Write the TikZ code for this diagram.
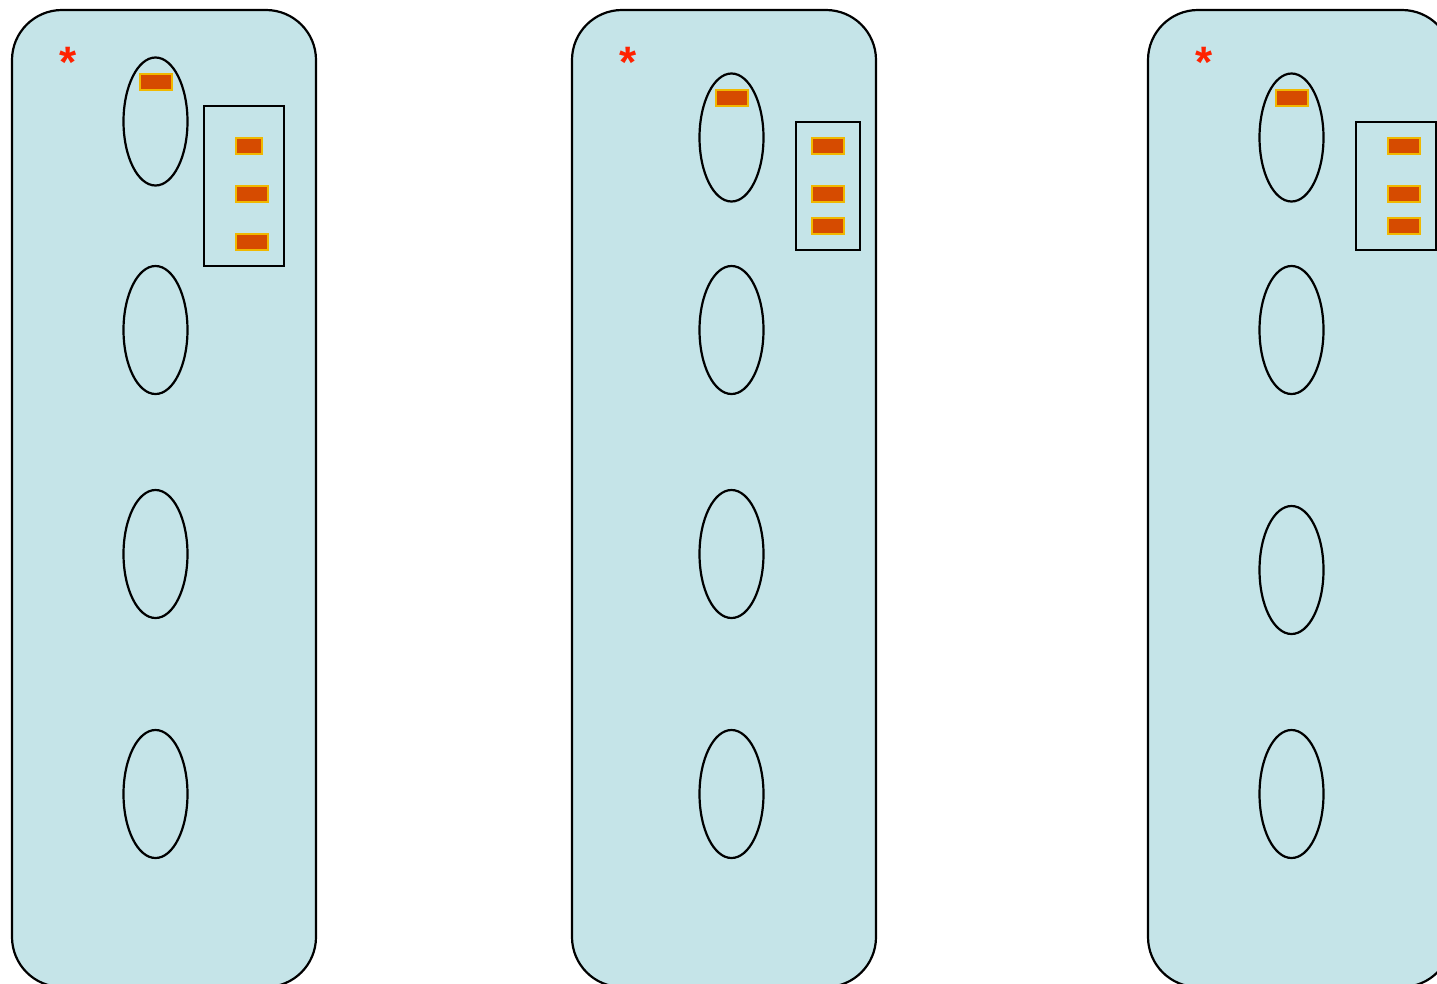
\documentclass[tikz,border=0pt]{standalone}
\usepackage{fontspec}
\setmainfont{Liberation Sans}
\usetikzlibrary{shapes.geometric}
\definecolor{panelblue}{RGB}{197,228,232}
\definecolor{chip}{RGB}{214,75,0}
\definecolor{chipedge}{RGB}{240,184,0}
\definecolor{starred}{RGB}{255,34,0}
\tikzset{
  panelbox/.style={draw=black, line width=2.2pt, fill=panelblue, rounded corners=50pt, minimum width=304pt, minimum height=977pt, inner sep=0pt},
  oval/.style={draw=black, line width=2.2pt, ellipse, minimum width=64pt, minimum height=128pt, inner sep=0pt},
  tray/.style={draw=black, line width=2.2pt, rectangle, inner sep=0pt},
  chipbox/.style={draw=chipedge, line width=2.5pt, fill=chip, rectangle, inner sep=0pt, minimum height=16pt},
  star/.style={text=starred, font=\bfseries\fontsize{44}{44}\selectfont, inner sep=0pt, anchor=north}
}
\begin{document}
\begin{tikzpicture}[x=1pt, y=-1pt]
\useasboundingbox (0,0) rectangle (1437,983);
\clip (0,0) rectangle (1437,983);
% ---------- panel 1 ----------
\node[panelbox] (p1) at (164,498.5) {};
\node[star] (s1) at (68,47) {*};
\node[oval] (a1) at (155.5,121.5) {};
\node[oval] (b1) at (155.5,330) {};
\node[oval] (c1) at (155.5,554) {};
\node[oval] (d1) at (155.5,794) {};
\node[chipbox, minimum width=32pt] (k1) at (156,82) {};
\node[tray, minimum width=80pt, minimum height=160pt] (t1) at (244,186) {};
\node[chipbox, minimum width=26pt] (q1a) at (249,146) {};
\node[chipbox, minimum width=32pt] (q1b) at (252,194) {};
\node[chipbox, minimum width=32pt] (q1c) at (252,242) {};
% ---------- panel 2 ----------
\node[panelbox] (p2) at (724,498.5) {};
\node[star] (s2) at (628,47) {*};
\node[oval] (a2) at (731.5,137.5) {};
\node[oval] (b2) at (731.5,330) {};
\node[oval] (c2) at (731.5,554) {};
\node[oval] (d2) at (731.5,794) {};
\node[chipbox, minimum width=32pt] (k2) at (732,98) {};
\node[tray, minimum width=64pt, minimum height=128pt] (t2) at (828,186) {};
\node[chipbox, minimum width=32pt] (q2a) at (828,146) {};
\node[chipbox, minimum width=32pt] (q2b) at (828,194) {};
\node[chipbox, minimum width=32pt] (q2c) at (828,226) {};
% ---------- panel 3 ----------
\node[panelbox] (p3) at (1300,498.5) {};
\node[star] (s3) at (1204,47) {*};
\node[oval] (a3) at (1291.5,137.5) {};
\node[oval] (b3) at (1291.5,330) {};
\node[oval] (c3) at (1291.5,570) {};
\node[oval] (d3) at (1291.5,794) {};
\node[chipbox, minimum width=32pt] (k3) at (1292,98) {};
\node[tray, minimum width=80pt, minimum height=128pt] (t3) at (1396,186) {};
\node[chipbox, minimum width=32pt] (q3a) at (1404,146) {};
\node[chipbox, minimum width=32pt] (q3b) at (1404,194) {};
\node[chipbox, minimum width=32pt] (q3c) at (1404,226) {};
\end{tikzpicture}
\end{document}
